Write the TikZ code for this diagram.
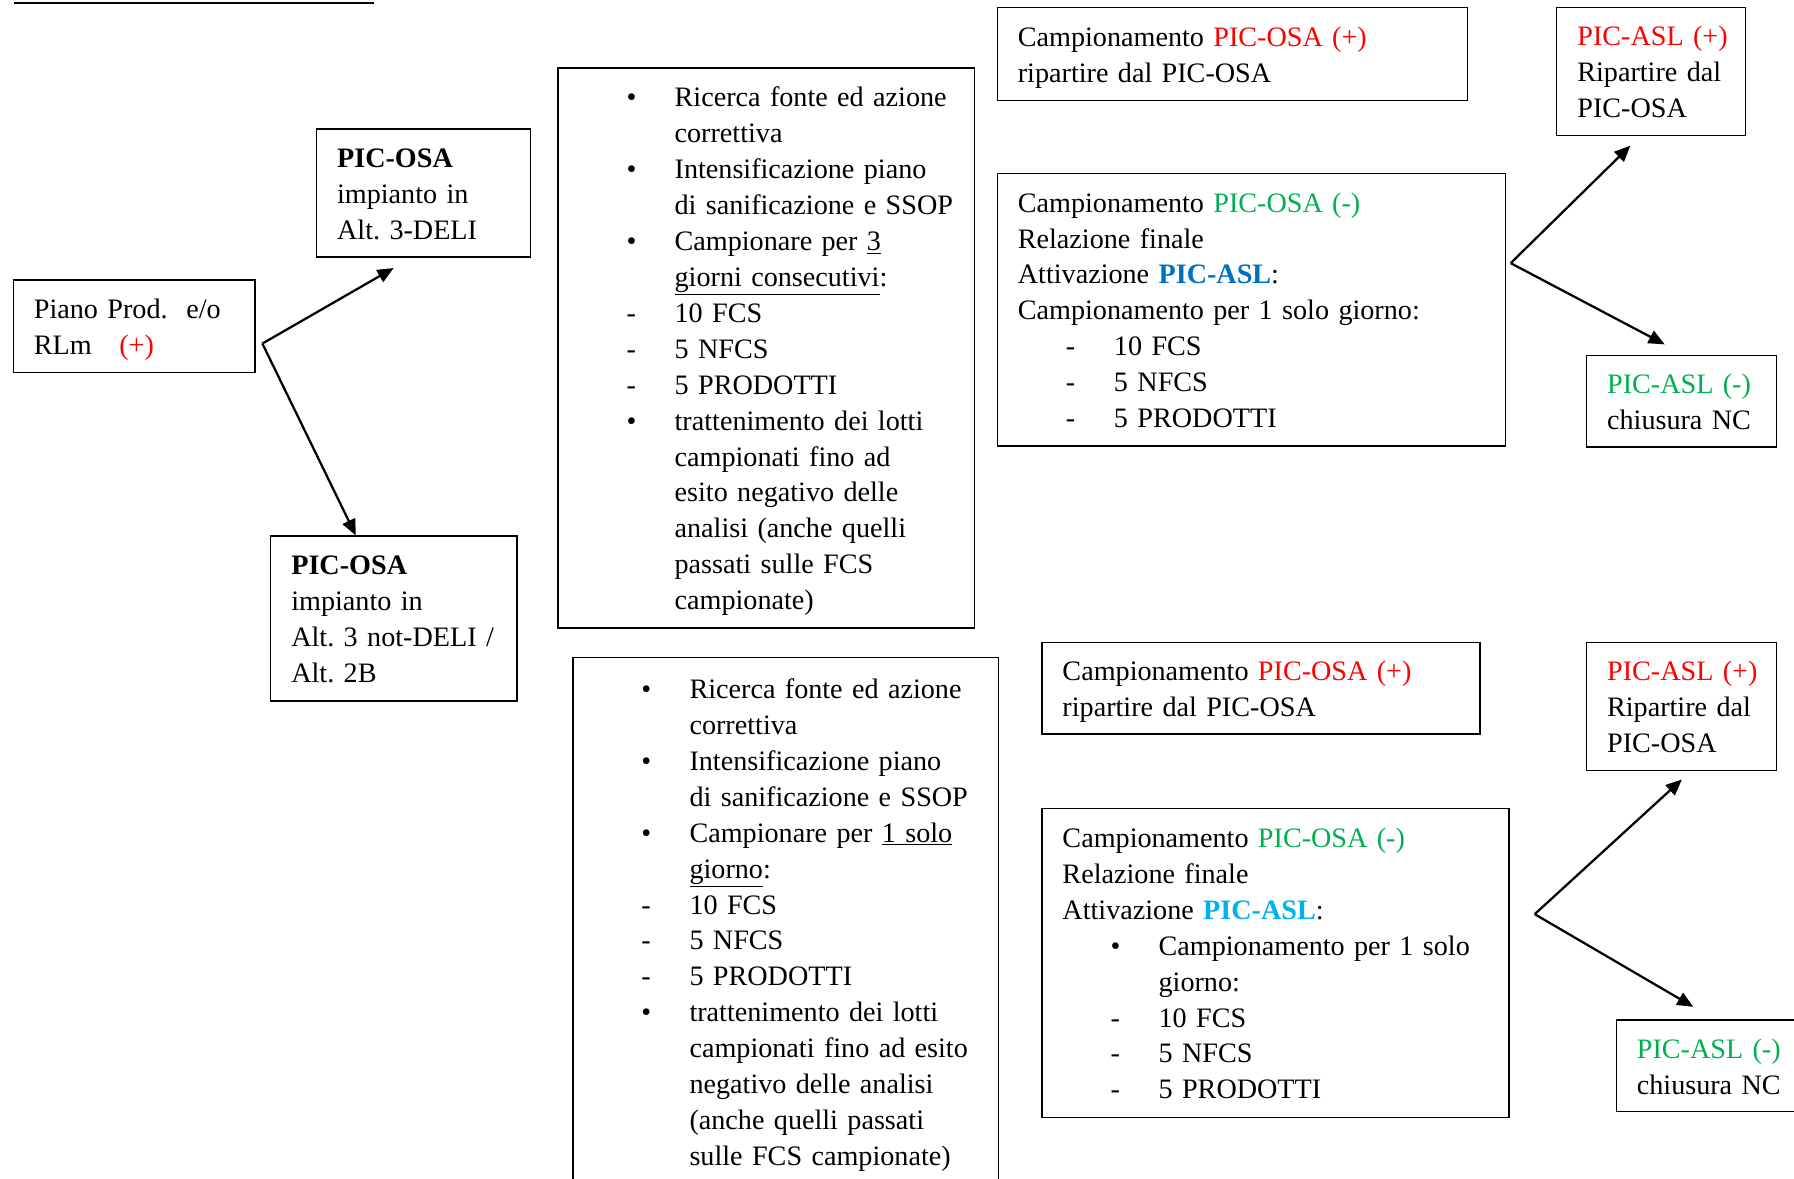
\documentclass[tikz,border=0pt]{standalone}
\usepackage{fontspec}
\setmainfont{Liberation Serif}
\usetikzlibrary{positioning,calc,arrows.meta}
\frenchspacing

\definecolor{osared}{RGB}{255,0,0}
\definecolor{osagreen}{RGB}{0,176,80}
\definecolor{aslblue}{RGB}{0,112,192}
\definecolor{aslcyan}{RGB}{0,176,240}

% list lines: item with its mark, continuation
\newcommand{\itm}[2]{\mbox{\hspace*{1.05cm}\makebox[1.05cm][l]{#1}#2}}
\newcommand{\cont}[1]{\mbox{\hspace*{2.1cm}#1}}

\begin{document}
\begin{tikzpicture}[x=0.025cm,y=-0.025cm,
    box/.style={draw,line width=0.9pt,anchor=north west,align=left,
      inner xsep=0.45cm,inner ysep=0pt,
      font=\fontsize{17.5}{22.33}\selectfont,
      execute at begin node={\rule{0pt}{17.5pt}},
      execute at end node={\rule[-4.83pt]{0pt}{4.83pt}}},
    flow/.style={-{Triangle[length=10pt,width=8.5pt]},line width=1.4pt}]

    \useasboundingbox (0,0) rectangle (1568,1030);
    \clip (0,0) rectangle (1568,1030);

    \draw[line width=1.2pt] (12,3) -- (327,3);

    % left column
    \node[box,text width=4.375cm,minimum height=2.025cm] (piano) at (11,244)
      {\mbox{Piano Prod.\ \ e/o}\\ \mbox{RLm\hspace{0.6cm}\textcolor{osared}{(+)}}};
    \node[box,text width=3.775cm,minimum height=2.8cm] (deli) at (276,112)
      {\textbf{PIC-OSA}\\ \mbox{impianto in}\\ \mbox{Alt. 3-DELI}};
    \node[box,text width=4.475cm,minimum height=3.6cm] (notdeli) at (236,468)
      {\textbf{PIC-OSA}\\ \mbox{impianto in}\\ \mbox{Alt. 3 not-DELI /}\\ \mbox{Alt. 2B}};

    % actions
    \node[box,text width=8.2cm,minimum height=12.225cm] (azDeli) at (487,59)
      {\itm{\textbullet}{Ricerca fonte ed azione}\\
       \cont{correttiva}\\
       \itm{\textbullet}{Intensificazione piano}\\
       \cont{di sanificazione e SSOP}\\
       \itm{\textbullet}{Campionare per \underline{3}}\\
       \cont{\underline{giorni consecutivi}:}\\
       \itm{-}{10 FCS}\\
       \itm{-}{5 NFCS}\\
       \itm{-}{5 PRODOTTI}\\
       \itm{\textbullet}{trattenimento dei lotti}\\
       \cont{campionati fino ad}\\
       \cont{esito negativo delle}\\
       \cont{analisi (anche quelli}\\
       \cont{passati sulle FCS}\\
       \cont{campionate)}};
    \node[box,text width=8.4cm,minimum height=11.55cm] (azNotDeli) at (500,574)
      {\itm{\textbullet}{Ricerca fonte ed azione}\\
       \cont{correttiva}\\
       \itm{\textbullet}{Intensificazione piano}\\
       \cont{di sanificazione e SSOP}\\
       \itm{\textbullet}{Campionare per \underline{1 solo}}\\
       \cont{\underline{giorno}:}\\
       \itm{-}{10 FCS}\\
       \itm{-}{5 NFCS}\\
       \itm{-}{5 PRODOTTI}\\
       \itm{\textbullet}{trattenimento dei lotti}\\
       \cont{campionati fino ad esito}\\
       \cont{negativo delle analisi}\\
       \cont{(anche quelli passati}\\
       \cont{sulle FCS campionate)}};

    % sampling results, upper branch
    \node[box,text width=9.375cm,minimum height=2.025cm] (posDeli) at (871,6)
      {\mbox{Campionamento \textcolor{osared}{PIC-OSA (+)}}\\ \mbox{ripartire dal PIC-OSA}};
    \node[box,text width=10.2cm,minimum height=5.95cm] (negDeli) at (871,151)
      {\mbox{Campionamento \textcolor{osagreen}{PIC-OSA (-)}}\\
       \mbox{Relazione finale}\\
       \mbox{Attivazione \textcolor{aslblue}{\textbf{PIC-ASL}}:}\\
       \mbox{Campionamento per 1 solo giorno:}\\
       \itm{-}{10 FCS}\\
       \itm{-}{5 NFCS}\\
       \itm{-}{5 PRODOTTI}};
    \node[box,text width=3.225cm,minimum height=2.8cm] (posAslDeli) at (1360,6)
      {\mbox{\textcolor{osared}{PIC-ASL (+)}}\\ \mbox{Ripartire dal}\\ PIC-OSA};
    \node[box,text width=3.25cm,minimum height=2cm] (negAslDeli) at (1386,310)
      {\mbox{\textcolor{osagreen}{PIC-ASL (-)}}\\ \mbox{chiusura NC}};

    % sampling results, lower branch
    \node[box,text width=8.675cm,minimum height=2cm] (posNotDeli) at (910,561)
      {\mbox{Campionamento \textcolor{osared}{PIC-OSA (+)}}\\ \mbox{ripartire dal PIC-OSA}};
    \node[box,text width=9.3cm,minimum height=6.75cm] (negNotDeli) at (910,706)
      {\mbox{Campionamento \textcolor{osagreen}{PIC-OSA (-)}}\\
       \mbox{Relazione finale}\\
       \mbox{Attivazione \textcolor{aslcyan}{\textbf{PIC-ASL}}:}\\
       \itm{\textbullet}{Campionamento per 1 solo}\\
       \cont{giorno:}\\
       \itm{-}{10 FCS}\\
       \itm{-}{5 NFCS}\\
       \itm{-}{5 PRODOTTI}};
    \node[box,text width=3.25cm,minimum height=2.8cm] (posAslNotDeli) at (1386,561)
      {\mbox{\textcolor{osared}{PIC-ASL (+)}}\\ \mbox{Ripartire dal}\\ PIC-OSA};
    \node[box,text width=3.8cm,minimum height=2cm] (negAslNotDeli) at (1412,891)
      {\mbox{\textcolor{osagreen}{PIC-ASL (-)}}\\ \mbox{chiusura NC}};

    % forks
    \coordinate (forkPiano) at ($(piano.south east)+(6,-26)$);
    \coordinate (forkDeli) at ($(negDeli.north east)+(4,79)$);
    \coordinate (forkNotDeli) at ($(negNotDeli.north east)+(22,93)$);

    \draw[flow] (forkPiano) -- ($(deli.south west)+(68,9)$);
    \draw[flow] (forkPiano) -- ($(notdeli.north west)+(75,0)$);
    \draw[flow] (forkDeli) -- ($(posAslDeli.south west)+(65,8)$);
    \draw[flow] (forkDeli) -- ($(negAslDeli.north west)+(69,-9)$);
    \draw[flow] (forkNotDeli) -- ($(posAslNotDeli.south west)+(84,7)$);
    \draw[flow] (forkNotDeli) -- ($(negAslNotDeli.north west)+(68,-11)$);
\end{tikzpicture}
\end{document}
